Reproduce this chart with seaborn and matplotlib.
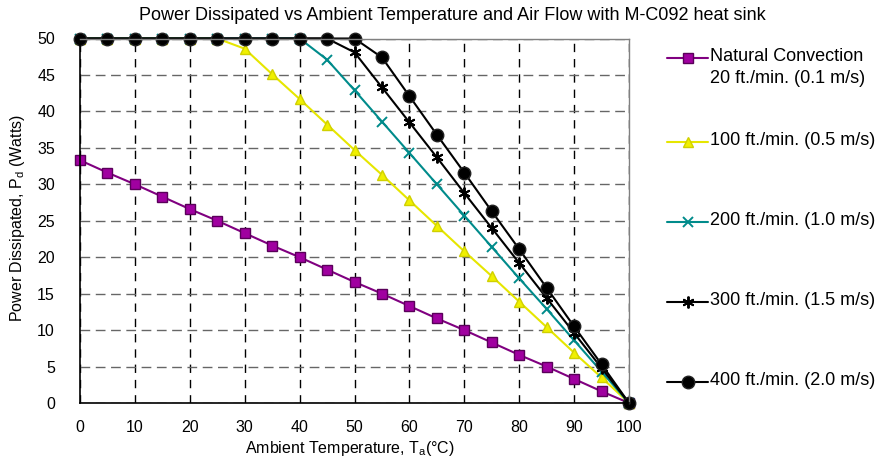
import matplotlib
matplotlib.use("Agg")
import matplotlib.pyplot as plt
import seaborn as sns
from matplotlib.lines import Line2D

temps = [0, 5, 10, 15, 20, 25, 30, 35, 40, 45, 50, 55, 60, 65, 70, 75, 80, 85, 90, 95, 100]

natural = [33.3, 31.6, 30.0, 28.3, 26.6, 25.0, 23.3, 21.6, 20.0, 18.3, 16.6,
           15.0, 13.3, 11.6, 10.0, 8.3, 6.6, 5.0, 3.3, 1.6, 0.0]
fpm100 = [50, 50, 50, 50, 50, 50, 48.6, 45.1, 41.7, 38.2, 34.7,
          31.3, 27.8, 24.3, 20.8, 17.4, 13.9, 10.4, 6.9, 3.5, 0.0]
fpm200 = [50, 50, 50, 50, 50, 50, 50, 50, 50, 47.1, 42.9,
          38.6, 34.3, 30.0, 25.7, 21.4, 17.1, 12.9, 8.6, 4.3, 0.0]
fpm300 = [50, 50, 50, 50, 50, 50, 50, 50, 50, 50, 48.1,
          43.3, 38.5, 33.7, 28.8, 24.0, 19.2, 14.4, 9.6, 4.8, 0.0]
fpm400 = [50, 50, 50, 50, 50, 50, 50, 50, 50, 50, 50,
          47.4, 42.1, 36.8, 31.6, 26.3, 21.1, 15.8, 10.5, 5.3, 0.0]

labels = ["Natural Convection\n20 ft./min. (0.1 m/s)",
          "100 ft./min. (0.5 m/s)",
          "200 ft./min. (1.0 m/s)",
          "300 ft./min. (1.5 m/s)",
          "400 ft./min. (2.0 m/s)"]

sns.set_style("white")
plt.rcParams['font.family'] = ['Liberation Sans', 'DejaVu Sans']
plt.rcParams['text.color'] = 'black'
plt.rcParams['xtick.color'] = 'black'
plt.rcParams['ytick.color'] = 'black'

W, H = 885, 462
fig = plt.figure(figsize=(W / 100, H / 100), dpi=100)
ax = fig.add_axes([80 / W, 1 - 403 / H, (629 - 80) / W, (403 - 38.5) / H])

styles = [
    dict(color='#800080', marker='s', markersize=7.5, markerfacecolor='#A000A0',
         markeredgecolor='#5A005A', markeredgewidth=1),
    dict(color='#E6E600', marker='^', markersize=7.5, markerfacecolor='#F0F000',
         markeredgecolor='#D0D000', markeredgewidth=1),
    dict(color='#008B8B', marker='x', markersize=7.5, markeredgecolor='#008B8B',
         markeredgewidth=1.4),
    dict(color='black', marker=(6, 2, 0), markersize=8.5, markeredgecolor='black',
         markeredgewidth=1.4),
    dict(color='black', marker='o', markersize=9, markerfacecolor='black',
         markeredgecolor='#222222', markeredgewidth=1),
]
series = [natural, fpm100, fpm200, fpm300, fpm400]

for vals, st in zip(series, styles):
    sns.lineplot(x=temps, y=vals, ax=ax, linewidth=1.5, legend=False, clip_on=False, **st)

ax.set_xlim(0, 100)
ax.set_ylim(0, 50)
ax.set_xticks(range(0, 101, 10))
ax.set_yticks(range(0, 51, 5))
ax.tick_params(axis='y', direction='out', length=4, color='#555555', pad=14, labelsize=11.5)
ax.tick_params(axis='x', length=0, pad=12, labelsize=11.5)

ax.xaxis.grid(True, color='black', linestyle=(0, (6, 5)), linewidth=1)
ax.yaxis.grid(True, color='#666666', linestyle=(0, (7, 4)), linewidth=1)
ax.set_axisbelow(True)

for side in ['left', 'bottom']:
    ax.spines[side].set_color('black')
    ax.spines[side].set_linewidth(1.2)
for side in ['top', 'right']:
    ax.spines[side].set_color('#808080')
    ax.spines[side].set_linewidth(1)

fig.text(452 / W, 1 - 15 / H,
         "Power Dissipated vs Ambient Temperature and Air Flow with M-C092 heat sink",
         ha='center', va='center', fontsize=13)
fig.text(350 / W, 1 - 449 / H, r"Ambient Temperature, T$_\mathregular{a}$(°C)",
         ha='center', va='center', fontsize=11.5)
fig.text(18 / W, 1 - 218 / H, r"Power Dissipated, P$_\mathregular{d}$ (Watts)",
         ha='center', va='center', rotation=90, fontsize=11.5)

# legend drawn by hand to the right of the plot
leg_y = [58, 142, 222, 302, 382]
for lab, st, y in zip(labels, styles, leg_y):
    yf = 1 - y / H
    line_kw = {k: v for k, v in st.items() if not k.startswith('marker')}
    fig.add_artist(Line2D([667 / W, 708 / W], [yf, yf], transform=fig.transFigure,
                          linewidth=1.5, **line_kw))
    fig.add_artist(Line2D([688 / W], [yf], transform=fig.transFigure,
                          linestyle='None', **st))
    fig.text(710 / W, 1 - (y - 10) / H, lab, ha='left', va='top',
             fontsize=13, linespacing=1.35)

fig.savefig("out.png", dpi=100)
